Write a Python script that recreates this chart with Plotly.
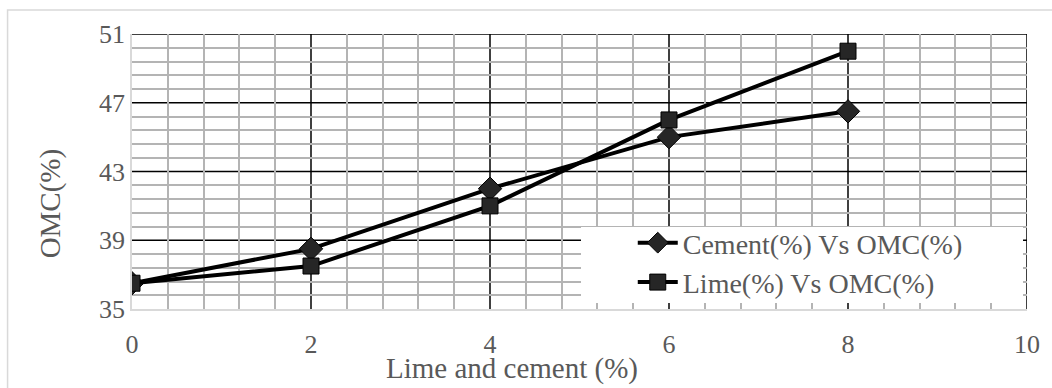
import plotly.graph_objects as go

x_vals = [0, 2, 4, 6, 8]
cement = [36.5, 38.5, 42, 45, 46.5]
lime = [36.5, 37.5, 41, 46, 50]
series_names = ["Cement(%) Vs OMC(%)", "Lime(%) Vs OMC(%)"]
x_ticks = [0, 2, 4, 6, 8, 10]
y_ticks = [35, 39, 43, 47, 51]
x_title = "Lime and cement (%)"
y_title = "OMC(%)"

FONT = "Liberation Serif, Times New Roman, serif"
GRAY_TXT = "#595959"
NB = "\u00a0"

L, R, T, B = 132, 21, 34, 79
W, H = 1052, 388
PW, PH = W - L - R, H - T - B

def px(x):
    return (x - L) / PW

def py(y):
    return (H - B - y) / PH

def minor_between(ticks, n=5):
    return [a + (b - a) * k / n for a, b in zip(ticks, ticks[1:]) for k in range(1, n)]

fig = go.Figure()
fig.add_trace(go.Scatter(
    x=x_vals, y=cement, name=series_names[0], mode="lines+markers",
    line=dict(color="#000000", width=4),
    marker=dict(symbol="diamond", size=18, color="#262626", line=dict(color="#000000", width=1)),
))
fig.add_trace(go.Scatter(
    x=x_vals, y=lime, name=series_names[1], mode="lines+markers",
    line=dict(color="#000000", width=4),
    marker=dict(symbol="square", size=16, color="#262626", line=dict(color="#000000", width=1)),
))

# black major grid lines at the tick values
shapes = []
for xv in x_ticks[1:]:
    shapes.append(dict(type="line", xref="x", yref="y", x0=xv, x1=xv, y0=y_ticks[0], y1=y_ticks[-1],
                       line=dict(color="#000000", width=1.5), layer="below"))
for yv in y_ticks[1:]:
    shapes.append(dict(type="line", xref="x", yref="y", x0=x_ticks[0], x1=x_ticks[-1], y0=yv, y1=yv,
                       line=dict(color="#000000", width=1.5), layer="below"))
# white legend box, leaving short grid stubs at its bottom and right edges
shapes.append(dict(type="rect", xref="paper", yref="paper",
                   x0=px(583), x1=px(1027), y0=py(303), y1=py(227),
                   fillcolor="white", line=dict(width=0), layer="above"))
# light chart-area border
shapes.append(dict(type="rect", xref="paper", yref="paper",
                   x0=px(7), x1=px(1100), y0=py(420), y1=py(10),
                   fillcolor="rgba(0,0,0,0)", line=dict(color="#d9d9d9", width=1.5), layer="below"))

fig.update_layout(
    width=W, height=H,
    margin=dict(l=L, r=R, t=T, b=B, pad=0),
    paper_bgcolor="white", plot_bgcolor="rgba(0,0,0,0)",
    font=dict(family=FONT, color=GRAY_TXT, size=26),
    showlegend=True,
    legend=dict(
        x=px(635), y=py(218), xanchor="left", yanchor="top",
        bgcolor="rgba(0,0,0,0)", borderwidth=0,
        font=dict(family=FONT, size=28, color=GRAY_TXT),
        itemwidth=40, tracegroupgap=0,
    ),
    xaxis=dict(
        range=[x_ticks[0], x_ticks[-1]], tickvals=x_ticks,
        showgrid=False,
        minor=dict(tickvals=minor_between(x_ticks), showgrid=True, gridcolor="#b4b4b4", gridwidth=1.5),
        showline=True, linecolor="#d9d9d9", linewidth=1.5,
        zeroline=False, ticks="outside", ticklen=11, tickcolor="rgba(0,0,0,0)",
        tickfont=dict(family=FONT, size=26, color=GRAY_TXT),
    ),
    yaxis=dict(
        range=[y_ticks[0], y_ticks[-1]], tickvals=y_ticks,
        showgrid=False,
        minor=dict(tickvals=minor_between(y_ticks), showgrid=True, gridcolor="#b4b4b4", gridwidth=1.5),
        showline=True, linecolor="#d9d9d9", linewidth=1.5,
        zeroline=False, ticks="", ticksuffix=NB * 3,
        tickfont=dict(family=FONT, size=26, color=GRAY_TXT),
    ),
    shapes=shapes,
    annotations=[
        dict(text=x_title, xref="paper", yref="paper", x=px(514), y=py(368),
             xanchor="center", yanchor="middle", showarrow=False,
             font=dict(family=FONT, size=29, color=GRAY_TXT)),
        dict(text=y_title, xref="paper", yref="paper", x=px(50), y=py(203),
             xanchor="center", yanchor="middle", showarrow=False, textangle=-90,
             font=dict(family=FONT, size=29, color=GRAY_TXT)),
    ],
)

fig.write_html("out.html")
